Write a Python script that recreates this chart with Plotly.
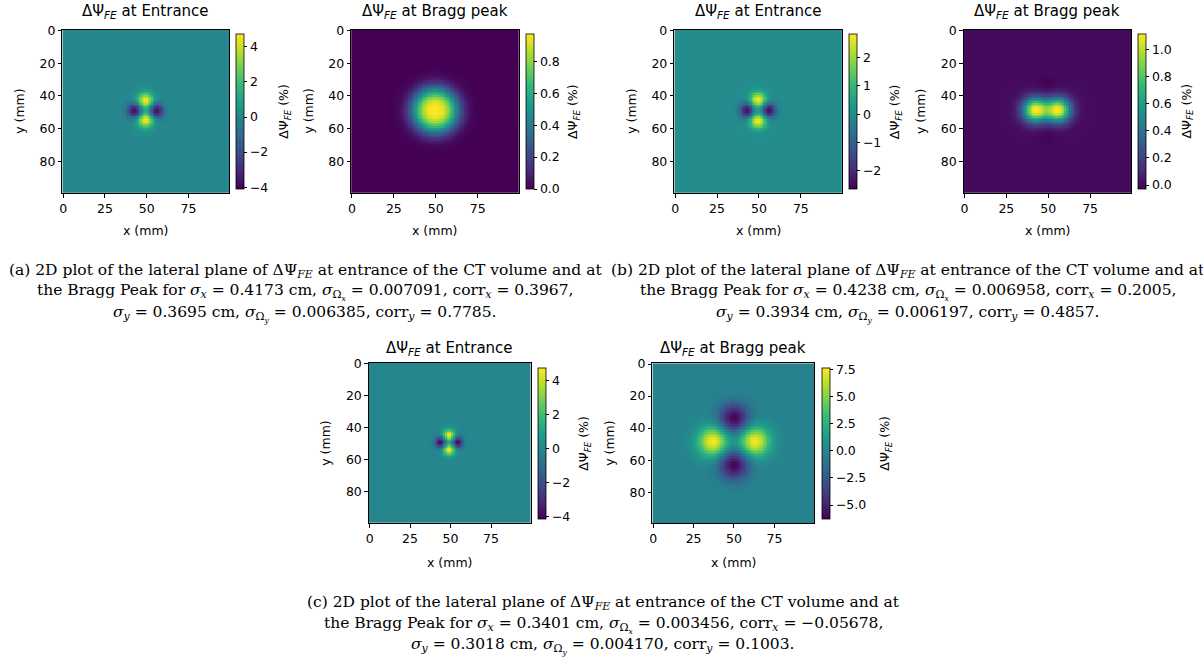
import numpy as np
import plotly.graph_objects as go

W, H = 1203, 664

# ---------------- data ----------------
X_MM = list(range(100))
Y_MM = list(range(100))
X_TICKS = [0, 25, 50, 75]
Y_TICKS = [0, 20, 40, 60, 80]

PANEL_TITLES = [
    "ΔΨ<sub><i>FE</i></sub> at Entrance", "ΔΨ<sub><i>FE</i></sub> at Bragg peak",
    "ΔΨ<sub><i>FE</i></sub> at Entrance", "ΔΨ<sub><i>FE</i></sub> at Bragg peak",
    "ΔΨ<sub><i>FE</i></sub> at Entrance", "ΔΨ<sub><i>FE</i></sub> at Bragg peak",
]
CB_TITLE = "ΔΨ<sub><i>FE</i></sub> (%)"

# lobes of each panel: centre x (mm), centre y (mm), amplitude (%), width (mm), shape exponent
A_ENT_X = [49.2, 49.2, 43.0, 55.5]
A_ENT_Y = [43.1, 54.7, 49.2, 49.2]
A_ENT_AMP = [4.73, 4.73, -4.11, -4.11]
A_ENT_W = [3.4, 3.4, 3.1, 3.1]
A_ENT_P = [2, 2, 2, 2]

A_BRG_X = [49.5]
A_BRG_Y = [49.0]
A_BRG_AMP = [0.97]
A_BRG_W = [10.8]
A_BRG_P = [2.8]

B_ENT_X = [49.3, 49.3, 43.0, 55.5]
B_ENT_Y = [42.7, 55.3, 49.0, 49.0]
B_ENT_AMP = [2.83, 2.83, -2.64, -2.64]
B_ENT_W = [3.4, 3.4, 3.1, 3.1]
B_ENT_P = [2, 2, 2, 2]

B_BRG_X = [42.2, 55.8, 49.5, 49.5]
B_BRG_Y = [48.8, 48.8, 34.0, 63.0]
B_BRG_AMP = [1.10, 1.10, -0.03, -0.03]
B_BRG_W = [5.2, 5.2, 4.5, 4.5]
B_BRG_P = [2, 2, 2, 2]

C_ENT_X = [49.0, 49.0, 43.8, 54.2]
C_ENT_Y = [44.8, 53.8, 49.3, 49.3]
C_ENT_AMP = [4.76, 4.76, -4.13, -4.13]
C_ENT_W = [2.5, 2.5, 2.4, 2.4]
C_ENT_P = [2, 2, 2, 2]

C_BRG_X = [37.0, 62.6, 49.9, 49.9]
C_BRG_Y = [48.5, 48.5, 34.1, 62.9]
C_BRG_AMP = [7.7, 7.7, -6.25, -6.25]
C_BRG_W = [6.5, 6.5, 6.5, 6.5]
C_BRG_P = [2, 2, 2, 2]

# colour-bar limits
CB_MIN = [-4.11, 0.0, -2.64, -0.03, -4.13, -6.25]
CB_MAX = [4.73, 0.97, 2.83, 1.117, 4.76, 7.7]
CB_DTICK = [2, 0.2, 1, 0.2, 2, 2.5]
CB_FMT = ["d", ".1f", "d", ".1f", "d", ".1f"]

CAPTIONS = [
    ["(a) 2D plot of the lateral plane of ΔΨ<sub><i>FE</i></sub> at entrance of the CT volume and at",
     "the Bragg Peak for <i>σ<sub>x</sub></i> = 0.4173 cm, <i>σ</i><sub>Ω<sub><i>x</i></sub></sub> = 0.007091, corr<sub><i>x</i></sub> = 0.3967,",
     "<i>σ<sub>y</sub></i> = 0.3695 cm, <i>σ</i><sub>Ω<sub><i>y</i></sub></sub> = 0.006385, corr<sub><i>y</i></sub> = 0.7785."],
    ["(b) 2D plot of the lateral plane of ΔΨ<sub><i>FE</i></sub> at entrance of the CT volume and at",
     "the Bragg Peak for <i>σ<sub>x</sub></i> = 0.4238 cm, <i>σ</i><sub>Ω<sub><i>x</i></sub></sub> = 0.006958, corr<sub><i>x</i></sub> = 0.2005,",
     "<i>σ<sub>y</sub></i> = 0.3934 cm, <i>σ</i><sub>Ω<sub><i>y</i></sub></sub> = 0.006197, corr<sub><i>y</i></sub> = 0.4857."],
    ["(c) 2D plot of the lateral plane of ΔΨ<sub><i>FE</i></sub> at entrance of the CT volume and at",
     "the Bragg Peak for <i>σ<sub>x</sub></i> = 0.3401 cm, <i>σ</i><sub>Ω<sub><i>x</i></sub></sub> = 0.003456, corr<sub><i>x</i></sub> = −0.05678,",
     "<i>σ<sub>y</sub></i> = 0.3018 cm, <i>σ</i><sub>Ω<sub><i>y</i></sub></sub> = 0.004170, corr<sub><i>y</i></sub> = 0.1003."],
]

PANELS = [
    (A_ENT_X, A_ENT_Y, A_ENT_AMP, A_ENT_W, A_ENT_P),
    (A_BRG_X, A_BRG_Y, A_BRG_AMP, A_BRG_W, A_BRG_P),
    (B_ENT_X, B_ENT_Y, B_ENT_AMP, B_ENT_W, B_ENT_P),
    (B_BRG_X, B_BRG_Y, B_BRG_AMP, B_BRG_W, B_BRG_P),
    (C_ENT_X, C_ENT_Y, C_ENT_AMP, C_ENT_W, C_ENT_P),
    (C_BRG_X, C_BRG_Y, C_BRG_AMP, C_BRG_W, C_BRG_P),
]

# ---------------- layout (pixels) ----------------
P_L = [59.5, 349, 673, 963, 366.7, 651]
P_R = [227, 517, 841, 1131, 529, 813]
P_T = [23, 23, 23, 23, 359.5, 360]
P_B = [188, 188, 188, 188, 521.5, 522]
CB_L = [234, 524, 848, 1138, 536.7, 821]
CB_T = [27, 27, 27, 27, 364.3, 364]
CB_B = [184, 184, 184, 184, 517.3, 517]
CBT_X = [282, 572, 895, 1187, 583, 885]
TITLE_Y = [5, 5, 5, 5, 345, 345]
XLAB_Y = [226, 226, 226, 226, 561, 561]

CAP_X = [303, 907, 602]
CAP_Y = [[266.5, 288.5, 310.5], [266.5, 288.5, 310.5], [602.5, 624.5, 646]]

SANS = "DejaVu Sans"
SERIF = "DejaVu Serif"
TICK = 12.5
CAP_SIZE = 15.5


def field(px, py, amp, wid, pw):
    xx, yy = np.meshgrid(np.array(X_MM, float), np.array(Y_MM, float))
    z = np.zeros_like(xx)
    for cx, cy, a, s, p in zip(px, py, amp, wid, pw):
        r = np.sqrt((xx - cx) ** 2 + (yy - cy) ** 2)
        z += a * np.exp(-0.5 * (r / s) ** p)
    return z


def fx(px):
    return px / W


def fy(py):
    return 1 - py / H


def note(text, x, y, size, family=SANS, angle=0):
    return dict(text=text, x=fx(x), y=fy(y), xref="paper", yref="paper",
                showarrow=False, xanchor="center", yanchor="middle",
                textangle=angle, font=dict(family=family, size=size, color="black"))


fig = go.Figure()
layout = dict(width=W, height=H, margin=dict(l=0, r=0, t=0, b=0),
              paper_bgcolor="white", plot_bgcolor="white", showlegend=False,
              font=dict(family=SANS, size=TICK, color="black"))
annotations = []

for i, prm in enumerate(PANELS):
    n = i + 1
    xa = "x" if n == 1 else f"x{n}"
    ya = "y" if n == 1 else f"y{n}"
    z = field(*prm)
    fig.add_trace(go.Heatmap(
        z=z, x=X_MM, y=Y_MM, xaxis=xa, yaxis=ya,
        colorscale="Viridis", zmin=CB_MIN[i], zmax=CB_MAX[i],
        hoverinfo="skip",
        colorbar=dict(
            x=fx(CB_L[i]), xanchor="left", xpad=0,
            y=fy(CB_B[i]), yanchor="bottom", ypad=0,
            len=(CB_B[i] - CB_T[i]) / H, lenmode="fraction",
            thickness=8, thicknessmode="pixels",
            outlinewidth=0.8, outlinecolor="black",
            ticks="outside", ticklen=3.5, tickwidth=0.8, tickcolor="black",
            tick0=0, dtick=CB_DTICK[i], tickformat=CB_FMT[i],
            tickfont=dict(family=SANS, size=TICK, color="black"),
        ),
    ))
    axcommon = dict(showline=True, mirror=True, linecolor="black", linewidth=1,
                    ticks="outside", ticklen=3.5, tickwidth=0.8, tickcolor="black",
                    showgrid=False, zeroline=False,
                    tickfont=dict(family=SANS, size=TICK, color="black"))
    layout["xaxis" if n == 1 else f"xaxis{n}"] = dict(
        axcommon, domain=[fx(P_L[i]), fx(P_R[i])], anchor=ya,
        range=[-0.5, 99.5], tickvals=X_TICKS)
    layout["yaxis" if n == 1 else f"yaxis{n}"] = dict(
        axcommon, domain=[fy(P_B[i]), fy(P_T[i])], anchor=xa,
        range=[99.5, -0.5], tickvals=Y_TICKS)
    cx = (P_L[i] + P_R[i]) / 2
    cy = (P_T[i] + P_B[i]) / 2
    annotations.append(note(PANEL_TITLES[i], cx, TITLE_Y[i], 15))
    annotations.append(note("x (mm)", cx, XLAB_Y[i], TICK))
    annotations.append(note("y (mm)", P_L[i] - 43, cy, TICK, angle=-90))
    annotations.append(note(CB_TITLE, CBT_X[i], (CB_T[i] + CB_B[i]) / 2, TICK, angle=-90))

for k, lines in enumerate(CAPTIONS):
    for j, t in enumerate(lines):
        annotations.append(note(t, CAP_X[k], CAP_Y[k][j], CAP_SIZE, family=SERIF))

layout["annotations"] = annotations
fig.update_layout(**layout)
fig.write_html("out.html")
